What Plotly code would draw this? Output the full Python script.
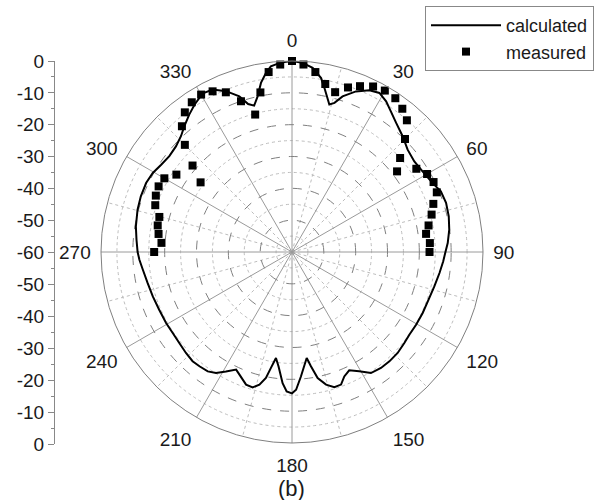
import plotly.graph_objects as go

# ---- calculated pattern (angle in degrees, level in dB) ----
calc_theta = [0, 3.2, 6.4, 9.5, 11.2, 14.2, 15.9, 18, 21.7, 25.6, 28.8, 32, 35.1, 38.9, 43.7,
              48.5, 53.5, 58.3, 63.9, 67.8, 72.3, 77.2, 81.9, 86.7, 90, 93.5, 98.1, 103.6, 110,
              115, 120.4, 125.2, 129, 133.7, 138.3, 142.5, 146.9, 150.6, 154.2, 157.2, 159.7,
              162.6, 165.6, 168.5, 170.6, 172.1, 175.9, 178.3, 180, 182.2, 184.1, 186.7, 188.6,
              190.3, 191.7, 193.8, 196.2, 199.1, 203.2, 205.4, 208.9, 212.1, 215.2, 219, 222.3,
              226.4, 231.1, 235.8, 240.6, 246.5, 252.3, 257.9, 263.3, 267.1, 270, 274.5, 279.3,
              285.3, 290.2, 295.3, 299.6, 303.7, 308, 312.3, 316.2, 319.4, 323.2, 326.5, 329,
              331.1, 334, 337.7, 341.3, 343.5, 345.5, 347.5, 349.6, 351.7, 353.5, 356.5, 360]
calc_db = [0, -0.5, -1.8, -4.6, -7.5, -12.2, -11.3, -8.6, -5.7, -3.7, -3.0, -4.2, -6.0, -7.9, -9.7,
           -11.5, -12.2, -11.8, -10.8, -9.5, -9.2, -9.5, -10.1, -11.0, -11.8, -12.4, -13.2, -14.0, -14.6,
           -14.7, -14.8, -14.9, -14.6, -14.1, -14.0, -14.1, -14.6, -17.0, -18.7, -17.6, -15.6,
           -15.5, -17.0, -19.6, -23.6, -26.4, -20.8, -16.7, -15.6, -16.2, -18.7, -23.8, -26.3,
           -23.0, -19.6, -17.1, -15.7, -15.9, -18.1, -19.1, -17.1, -15.1, -14.1, -13.8, -13.6,
           -14.0, -14.5, -14.7, -14.6, -14.5, -14.1, -13.6, -12.8, -12.0, -11.5, -11.0, -10.3,
           -9.7, -9.4, -9.3, -9.7, -10.6, -11.1, -10.7, -9.6, -8.0, -6.1, -4.5, -3.5,
           -2.9, -3.2, -5.4, -8.4, -11.5, -12.5, -10.0, -6.0, -3.2, -1.3, -0.4, 0]

# ---- measured points ----
meas_theta = [270, 274, 277.7, 281.2, 284.8, 288.9, 292.5, 296.2, 300, 303.8, 307.3, 311, 315,
              318.8, 322.5, 326.2, 330, 333.7, 337.5, 341.3, 345, 348.8, 352.6, 356.4, 0,
              3.5, 7.4, 11.2, 15.1, 18.8, 22.3, 26.1, 29.9, 33.9, 37.6, 41.1, 45, 49, 52.5,
              56.2, 60, 63.7, 67.6, 71.2, 75, 79, 82.3, 86.3, 90]
meas_db = [-16.7, -18.9, -17.7, -17.0, -16.9, -14.6, -13.7, -13.3, -13.7, -16.3, -23.9, -18.6, -12.4,
           -7.5, -4.7, -3.4, -2.9, -3.7, -5.7, -10.0, -15.3, -8.9, -3.0, -1.0, 0,
           -1.0, -3.0, -6.2, -8.0, -5.4, -3.7, -2.1, -1.5, -1.8, -3.2, -5.1, -9.8, -15.0, -18.4,
           -13.0, -11.0, -10.4, -10.8, -13.1, -14.6, -16.3, -17.5, -16.6, -16.8]

# ---- axis ticks ----
ang_ticks = [0, 30, 60, 90, 120, 150, 180, 210, 240, 270, 300, 330]
ang_labels = [str(a) for a in ang_ticks]
left_vals = [-60, -50, -40, -30, -20, -10, 0, 10, 20, 30, 40, 50, 60]
left_labels = ["0", "-10", "-20", "-30", "-40", "-50", "-60", "-50", "-40", "-30", "-20", "-10", "0"]
left_minor = [-55, -45, -35, -25, -15, -5, 5, 15, 25, 35, 45, 55]

FONT = "Liberation Sans, Arial, sans-serif"
TXT = "#1a1a1a"
FS = 19
dom_x = [101 / 596, 483 / 596]
dom_y = [57 / 500, 439 / 500]

fig = go.Figure()

# invisible anchor so the minor-grid polar subplot is drawn
fig.add_trace(go.Scatterpolar(r=[-60], theta=[0], mode="markers", marker=dict(opacity=0),
                              showlegend=False, hoverinfo="skip", subplot="polar"))

fig.add_trace(go.Scatterpolar(
    r=calc_db, theta=calc_theta, mode="lines", name="calculated",
    line=dict(color="black", width=2), subplot="polar2"))
fig.add_trace(go.Scatterpolar(
    r=meas_db, theta=meas_theta, mode="markers", name="measured",
    marker=dict(symbol="square", size=8, color="black"), subplot="polar2"))

# invisible trace so the left cartesian axis is drawn
fig.add_trace(go.Scatter(x=[0], y=[0], mode="markers", marker=dict(opacity=0),
                         showlegend=False, hoverinfo="skip", xaxis="x", yaxis="y"))

fig.update_layout(
    width=596, height=500,
    margin=dict(l=0, r=0, t=0, b=0, autoexpand=False),
    paper_bgcolor="white", plot_bgcolor="white",
    font=dict(family=FONT, size=FS, color=TXT),
    showlegend=True,
    legend=dict(x=594 / 596, y=1 - 6 / 500, xanchor="right", yanchor="top",
                bordercolor="#888", borderwidth=1, bgcolor="white", itemwidth=70,
                font=dict(size=18, color=TXT), tracegroupgap=0),
    polar=dict(
        domain=dict(x=dom_x, y=dom_y),
        bgcolor="white",
        radialaxis=dict(range=[-60, 0], tickvals=[-55, -45, -35, -25, -15, -5],
                        showticklabels=False, ticks="", showline=False,
                        gridcolor="#bdbdbd", griddash="dot", gridwidth=1),
        angularaxis=dict(rotation=90, direction="clockwise", tickmode="linear",
                         tick0=15, dtick=30, showticklabels=False, ticks="",
                         showline=False, gridcolor="#bdbdbd", griddash="dot", gridwidth=1),
    ),
    polar2=dict(
        domain=dict(x=dom_x, y=dom_y),
        bgcolor="rgba(0,0,0,0)",
        radialaxis=dict(range=[-60, 0], tickvals=[-50, -40, -30, -20, -10],
                        showticklabels=False, ticks="", showline=False,
                        gridcolor="#808080", griddash="dash", gridwidth=1),
        angularaxis=dict(rotation=90, direction="clockwise", tickmode="array",
                         tickvals=ang_ticks, ticktext=ang_labels,
                         ticks="outside", ticklen=6, tickcolor="rgba(0,0,0,0)",
                         tickfont=dict(size=FS, color=TXT),
                         showline=True, linecolor="#808080", linewidth=1,
                         gridcolor="#9a9a9a", gridwidth=1),
    ),
    xaxis=dict(domain=[55 / 596, 60 / 596], visible=False, range=[0, 1], automargin=False),
    yaxis=dict(domain=[56 / 500, 439 / 500], anchor="x", range=[-60, 60], automargin=False,
               tickmode="array", tickvals=left_vals, ticktext=left_labels,
               showline=True, linecolor="#888", linewidth=1,
               ticks="outside", ticklen=6, tickcolor="#888",
               minor=dict(tickvals=left_minor, ticks="outside", ticklen=3, tickcolor="#888"),
               showgrid=False, zeroline=False,
               tickfont=dict(size=FS, color=TXT)),
    annotations=[dict(text="(b)", x=291 / 596, y=1 - 488 / 500, xref="paper", yref="paper",
                      xanchor="center", yanchor="middle",
                      showarrow=False, font=dict(size=22, color=TXT))],
)

fig.write_html("out.html")
